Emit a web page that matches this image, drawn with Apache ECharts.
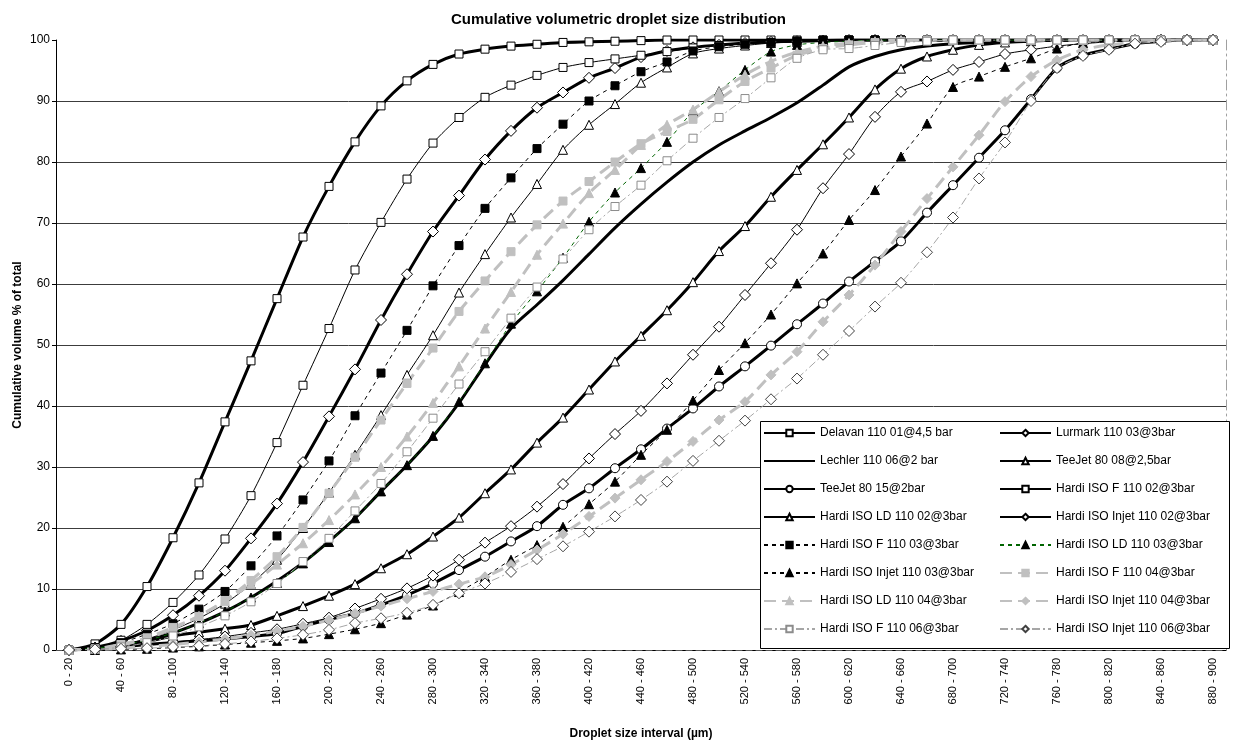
<!DOCTYPE html>
<html>
<head>
<meta charset="utf-8">
<title>Cumulative volumetric droplet size distribution</title>
<script src="https://cdn.jsdelivr.net/npm/echarts@6/dist/echarts.min.js"></script>
<style>
  html, body { margin: 0; padding: 0; background: #fff; }
  #chart_view { width: 1237px; height: 745px; }
</style>
</head>
<body>
<div id="chart_view"></div>
<script>
// droplet size classes (µm)
var categories = [
    '0 - 20', '20 - 40', '40 - 60', '60 - 80', '80 - 100', '100 - 120', '120 - 140', '140 - 160',
    '160 - 180', '180 - 200', '200 - 220', '220 - 240', '240 - 260', '260 - 280', '280 - 300',
    '300 - 320', '320 - 340', '340 - 360', '360 - 380', '380 - 400', '400 - 420', '420 - 440',
    '440 - 460', '460 - 480', '480 - 500', '500 - 520', '520 - 540', '540 - 560', '560 - 580',
    '580 - 600', '600 - 620', '620 - 640', '640 - 660', '660 - 680', '680 - 700', '700 - 720',
    '720 - 740', '740 - 760', '760 - 780', '780 - 800', '800 - 820', '820 - 840', '840 - 860',
    '860 - 880', '880 - 900'
];
var yTicks = [0, 10, 20, 30, 40, 50, 60, 70, 80, 90, 100];

// cumulative volume % per class, one array per nozzle
var delavan11001 = [0, 1.0, 4.2, 10.4, 18.4, 27.4, 37.4, 47.4, 57.6, 67.7, 76.0, 83.3, 89.2, 93.3, 96.0, 97.7, 98.5, 99.0, 99.3, 99.6, 99.7, 99.8, 99.9,
    100, 100, 100, 100, 100, 100, 100, 100, 100, 100, 100, 100, 100, 100, 100, 100, 100, 100, 100, 100, 100, 100];
var lurmark11003 = [0, 0.4, 1.5, 3.2, 5.7, 8.9, 13.0, 18.3, 24.0, 30.8, 38.3, 46.0, 54.1, 61.6, 68.6, 74.5, 80.4, 85.1, 88.9, 91.4, 93.8, 95.4, 97.2, 98.2, 98.8, 99.2, 99.5, 99.7, 99.8, 99.9,
    100, 100, 100, 100, 100, 100, 100, 100, 100, 100, 100, 100, 100, 100, 100];
var lechler11006 = [0, 0.3, 0.8, 1.6, 2.8, 4.4, 6.3, 8.6, 11.3, 14.3, 17.8, 21.6, 26.0, 30.3, 35.0, 40.5, 46.8, 52.7, 56.6, 60.6, 64.9, 69.2, 73.1, 76.7, 80.0, 82.8, 85.1, 87.3, 89.7, 92.6, 95.6, 97.3, 98.4, 99.0, 99.4, 99.6, 99.8, 99.9,
    100, 100, 100, 100, 100, 100, 100];
var teejet8008 = [0, 0.3, 0.8, 1.4, 2.3, 2.9, 3.5, 4.1, 5.6, 7.2, 8.9, 10.8, 13.4, 15.7, 18.6, 21.7, 25.7, 29.6, 34.0, 38.1, 42.7, 47.3, 51.5, 55.7, 60.3, 65.4, 69.5, 74.3, 78.7, 82.9, 87.3, 91.9, 95.3, 97.3, 98.4, 99.2, 99.6, 99.8,
    100, 100, 100, 100, 100, 100, 100];
var teejet8015 = [0, 0.2, 0.5, 0.9, 1.2, 1.5, 1.8, 2.2, 2.7, 3.9, 5.0, 6.0, 7.4, 9.0, 10.9, 13.1, 15.3, 17.8, 20.3, 23.8, 26.5, 29.8, 32.9, 36.3, 39.6, 43.2, 46.5, 49.9, 53.4, 56.8,
    60.4, 63.7, 67.0, 71.7, 76.2, 80.7, 85.2, 90.3, 95.4, 97.5, 98.5, 99.4, 99.8, 100, 100];
var hardiF02 = [0, 0.4, 1.6, 4.2, 7.8, 12.3, 18.2, 25.3, 34.0, 43.4, 52.7, 62.3, 70.1, 77.2, 83.1, 87.3, 90.6, 92.6, 94.2, 95.5, 96.3, 96.9, 97.5, 98.1, 98.7, 99.1, 99.4, 99.6, 99.8, 99.9,
    100, 100, 100, 100, 100, 100, 100, 100, 100, 100, 100, 100, 100, 100, 100];
var hardiLD02 = [0, 0.3, 0.9, 1.8, 3.3, 5.2, 7.6, 10.8, 14.8, 20.0, 25.8, 32.0, 38.5, 45.1, 51.6, 58.6, 64.9, 70.9, 76.4, 82.0, 86.1, 89.5, 93.0, 95.5, 97.8, 98.6, 99.1, 99.5, 99.7, 99.9,
    100, 100, 100, 100, 100, 100, 100, 100, 100, 100, 100, 100, 100, 100, 100];
var hardiInjet02 = [0, 0.2, 0.5, 0.9, 1.3, 1.7, 2.2, 2.8, 3.4, 4.3, 5.3, 6.8, 8.4, 10.1, 12.2, 14.8, 17.6, 20.3, 23.5, 27.2, 31.4, 35.4, 39.2, 43.7, 48.4, 53.0, 58.2, 63.4, 68.9, 75.7,
    81.3, 87.4, 91.5, 93.2, 95.1, 96.4, 97.7, 98.4, 99.0, 99.4, 99.7, 99.9, 100, 100, 100];
var hardiF03 = [0, 0.3, 1.2, 2.6, 4.3, 6.7, 9.6, 13.8, 18.7, 24.6, 31.0, 38.4, 45.4, 52.4, 59.7, 66.3, 72.4, 77.4, 82.2, 86.2, 90.0, 92.5, 94.8, 96.4, 98.2, 98.9, 99.3, 99.6, 99.8,
    100, 100, 100, 100, 100, 100, 100, 100, 100, 100, 100, 100, 100, 100, 100, 100];
var hardiLD03 = [0, 0.3, 0.8, 1.6, 2.8, 4.4, 6.3, 8.6, 11.0, 14.2, 17.7, 21.6, 26.0, 30.3, 35.1, 40.7, 47.0, 53.5, 58.8, 64.3, 70.2, 75.0, 79.0, 83.3, 88.3, 91.6, 95.1, 98.1, 99.2, 99.6, 99.8,
    100, 100, 100, 100, 100, 100, 100, 100, 100, 100, 100, 100, 100, 100];
var hardiInjet03 = [0, 0, 0.1, 0.2, 0.4, 0.6, 0.9, 1.2, 1.5, 1.9, 2.6, 3.4, 4.4, 5.8, 7.3, 9.5, 12.0, 14.8, 17.2, 20.2, 23.9, 27.6, 32.0, 36.1, 40.9, 45.9, 50.3, 55.0, 60.1, 65.0,
    70.5, 75.4, 80.9, 86.3, 92.3, 94.0, 95.6, 97.0, 98.6, 99.5, 99.8, 100, 100, 100, 100];
var hardiF04 = [0, 0.2, 0.9, 2.0, 3.7, 5.5, 8.1, 11.4, 15.3, 20.1, 25.7, 31.6, 37.7, 43.7, 49.5, 55.5, 60.5, 65.3, 69.7, 73.6, 76.8, 80.0, 83.0, 85.0, 87.0, 90.2, 93.2, 95.4, 97.5, 98.6, 99.2, 99.6, 99.8,
    100, 100, 100, 100, 100, 100, 100, 100, 100, 100, 100, 100];
var hardiLD04 = [0, 0.2, 0.8, 1.9, 3.5, 5.6, 8.0, 10.8, 14.0, 17.5, 21.3, 25.5, 30.0, 35.0, 40.5, 46.5, 52.7, 58.7, 64.8, 69.9, 74.9, 78.7, 82.8, 86.1, 88.6, 91.5, 94.3, 96.5, 98.0, 99.0, 99.5, 99.8,
    100, 100, 100, 100, 100, 100, 100, 100, 100, 100, 100, 100, 100];
var hardiInjet04 = [0, 0.1, 0.3, 0.6, 0.9, 1.3, 1.8, 2.4, 3.1, 3.9, 4.9, 6.0, 7.2, 8.4, 9.6, 10.8, 12.0, 14.0, 16.4, 19.0, 21.9, 24.9, 27.9, 30.9, 34.2, 37.7, 40.7, 45.1, 48.9, 53.8,
    58.2, 63.1, 68.6, 74.0, 79.2, 84.4, 89.9, 94.0, 96.7, 98.4, 99.2, 99.6, 100, 100, 100];
var hardiF06 = [0, 0.1, 0.5, 1.2, 2.3, 3.8, 5.6, 7.9, 10.9, 14.5, 18.3, 22.8, 27.3, 32.5, 38.0, 43.6, 48.9, 54.4, 59.5, 64.1, 68.9, 72.7, 76.2, 80.2, 83.9, 87.3, 90.4, 93.8, 97.0, 98.4, 98.6, 99.1, 99.6, 99.8,
    100, 100, 100, 100, 100, 100, 100, 100, 100, 100, 100];
var hardiInjet06 = [0, 0.1, 0.2, 0.3, 0.5, 0.7, 1.0, 1.4, 1.9, 2.5, 3.3, 4.4, 5.2, 6.1, 7.4, 9.3, 10.9, 12.8, 14.9, 17.0, 19.4, 21.9, 24.6, 27.6, 31.0, 34.3, 37.6, 41.1, 44.5, 48.4,
    52.3, 56.3, 60.2, 65.2, 70.9, 77.3, 83.2, 90.0, 95.4, 97.4, 98.4, 99.4, 99.7, 100, 100];

var FONT = 'Liberation Sans, Arial, sans-serif';
var GREY = '#c0c0c0';
var NONE = 'rgba(0,0,0,0)';

// one line series, open or filled marker
function mk(name, data, symbol, size, fill, border, lineColor, width, type) {
    return {
        name: name,
        type: 'line',
        data: data,
        smooth: 0.25,
        symbol: symbol,
        symbolSize: size,
        showAllSymbol: true,
        itemStyle: { color: fill, borderColor: border, borderWidth: 1 },
        lineStyle: { color: lineColor, width: width, type: type },
        emphasis: { disabled: true }
    };
}

var series = [
    mk('Delavan 110 01@4,5 bar', delavan11001, 'rect', 8, '#fff', '#000', '#000', 3, 'solid'),
    mk('Lurmark 110 03@3bar', lurmark11003, 'diamond', 11, '#fff', '#000', '#000', 3, 'solid'),
    mk('Lechler 110 06@2 bar', lechler11006, 'none', 8, NONE, NONE, '#000', 3, 'solid'),
    mk('TeeJet 80 08@2,5bar', teejet8008, 'triangle', 9, '#fff', '#000', '#000', 3, 'solid'),
    mk('TeeJet 80 15@2bar', teejet8015, 'circle', 9, '#fff', '#000', '#000', 3, 'solid'),
    mk('Hardi ISO F 110 02@3bar', hardiF02, 'rect', 8, '#fff', '#000', '#000', 1, 'solid'),
    mk('Hardi ISO LD 110 02@3bar', hardiLD02, 'triangle', 9, '#fff', '#000', '#000', 1, 'solid'),
    mk('Hardi ISO Injet 110 02@3bar', hardiInjet02, 'diamond', 11, '#fff', '#000', '#000', 1, 'solid'),
    mk('Hardi ISO F 110 03@3bar', hardiF03, 'rect', 8, '#000', '#000', '#000', 1, [4, 4]),
    mk('Hardi ISO LD 110 03@3bar', hardiLD03, 'triangle', 9, '#000', '#000', '#006400', 1, [4, 4]),
    mk('Hardi ISO Injet 110 03@3bar', hardiInjet03, 'triangle', 9, '#000', '#000', '#000', 1, [4, 4]),
    mk('Hardi ISO F 110 04@3bar', hardiF04, 'rect', 8, GREY, GREY, GREY, 3, [12, 6]),
    mk('Hardi ISO LD 110 04@3bar', hardiLD04, 'triangle', 9, GREY, GREY, GREY, 3, [12, 6]),
    mk('Hardi ISO Injet 110 04@3bar', hardiInjet04, 'diamond', 10, GREY, GREY, GREY, 3, [12, 6]),
    mk('Hardi ISO F 110 06@3bar', hardiF06, 'rect', 8, '#fff', '#8c8c8c', '#a6a6a6', 1, [8, 3, 2, 3]),
    mk('Hardi ISO Injet 110 06@3bar', hardiInjet06, 'diamond', 11, '#fff', '#404040', '#a6a6a6', 1, [8, 3, 2, 3])
];

var leftNames = [0, 2, 4, 6, 8, 10, 12, 14].map(function (i) { return series[i].name; });
var rightNames = [1, 3, 5, 7, 9, 11, 13, 15].map(function (i) { return series[i].name; });

function legendCol(names, left) {
    return {
        data: names,
        orient: 'vertical',
        left: left,
        top: 427,
        padding: 0,
        itemWidth: 51,
        itemHeight: 8,
        itemGap: 16,
        z: 20,
        selectedMode: false,
        textStyle: { fontFamily: FONT, fontSize: 12, color: '#000' }
    };
}

var myChart = echarts.init(document.getElementById('chart_view'));

var option = {
    animation: false,
    backgroundColor: '#fff',
    title: {
        text: 'Cumulative volumetric droplet size distribution',
        left: 'center',
        top: 7,
        textStyle: { fontFamily: FONT, fontSize: 15, fontWeight: 'bold', color: '#000' }
    },
    legend: [legendCol(leftNames, 763), legendCol(rightNames, 999)],
    graphic: [{
        type: 'rect',
        left: 760,
        top: 421,
        z: 10,
        shape: { width: 469, height: 227 },
        style: { fill: '#fff', stroke: '#000', lineWidth: 1 }
    }],
    grid: { left: 56, right: 11, top: 40, bottom: 95 },
    xAxis: [{
        type: 'category',
        data: categories,
        boundaryGap: true,
        name: 'Droplet size interval (µm)',
        nameLocation: 'middle',
        nameGap: 78,
        nameTextStyle: { fontFamily: FONT, fontSize: 12, fontWeight: 'bold', color: '#000' },
        axisLine: { lineStyle: { color: '#000', width: 1 } },
        axisTick: { interval: 0, length: 5, lineStyle: { color: '#000' } },
        axisLabel: { interval: 1, rotate: 90, margin: 8, fontFamily: FONT, fontSize: 11, color: '#000' },
        splitLine: { show: false }
    }, {
        type: 'category',
        data: categories,
        position: 'top',
        axisLine: { show: true, lineStyle: { color: '#555', width: 1, type: [6, 4] } },
        axisTick: { show: false },
        axisLabel: { show: false },
        splitLine: { show: false }
    }],
    yAxis: [{
        type: 'value',
        min: yTicks[0],
        max: yTicks[yTicks.length - 1],
        interval: 10,
        name: 'Cumulative volume % of total',
        nameLocation: 'middle',
        nameGap: 32,
        nameMoveOverlap: false,
        nameTextStyle: { fontFamily: FONT, fontSize: 12, fontWeight: 'bold', color: '#000' },
        axisLine: { show: true, lineStyle: { color: '#000', width: 1 } },
        axisTick: { show: true, length: 4, lineStyle: { color: '#000' } },
        axisLabel: { fontFamily: FONT, fontSize: 12, color: '#000', margin: 6 },
        splitLine: { show: true, showMaxLine: false, lineStyle: { color: '#3c3c3c', width: 1 } }
    }, {
        type: 'value',
        min: yTicks[0],
        max: yTicks[yTicks.length - 1],
        position: 'right',
        axisLine: { show: true, lineStyle: { color: '#a0a0a0', width: 1, type: [10, 4, 2, 4] } },
        axisTick: { show: false },
        axisLabel: { show: false },
        splitLine: { show: false }
    }],
    series: series
};

myChart.setOption(option);
</script>
</body>
</html>
